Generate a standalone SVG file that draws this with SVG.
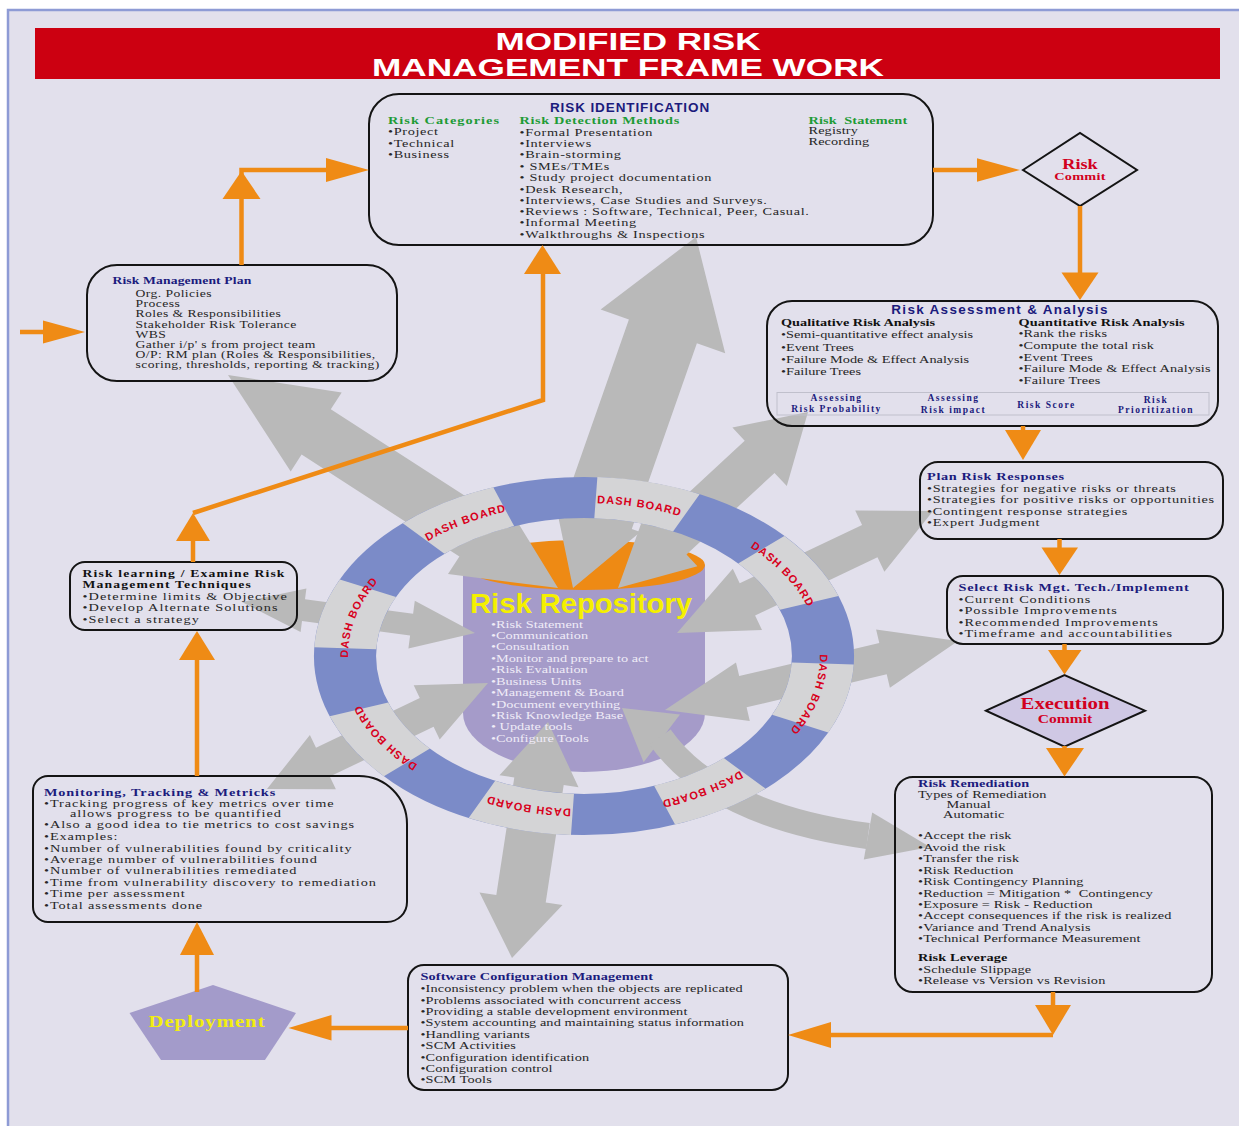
<svg xmlns="http://www.w3.org/2000/svg" width="1239" height="1126" viewBox="0 0 1239 1126">
<style>
.t{font-family:"Liberation Serif","Times New Roman",serif;font-size:11px;fill:#262626}
.b{font-weight:bold;fill:#111}
.nv{fill:#1b1b7d;font-weight:bold}
.gn{fill:#1e9b36;font-weight:bold}
.rd{font-family:"Liberation Serif","Times New Roman",serif;fill:#d2001e;font-weight:bold}
.box{fill:none;stroke:#141414;stroke-width:2}
.or{fill:#ef8b15}
.ol{fill:none;stroke:#ef8b15;stroke-width:4.5}
.gy{fill:#b9b9b9}
.db{font-family:"Liberation Sans",Arial,sans-serif;font-weight:bold;font-size:11px;fill:#d8001c;letter-spacing:1px}
.hs{font-family:"Liberation Sans",Arial,sans-serif;font-weight:bold;fill:#1b1b7d}
.nl{font-size:9.5px;letter-spacing:1.5px}
.ttl{font-family:"Liberation Sans",Arial,sans-serif;font-weight:bold;font-size:23px;fill:#fff}
</style>
<defs>
<path id="db0" d="M400.6 559.7 A236 153 0 0 1 539 505.8"/>
<path id="db1" d="M559.3 503.8 A236 153 0 0 1 716 529.2"/>
<path id="db2" d="M732.5 537.1 A236 153 0 0 1 815.7 626.8"/>
<path id="db3" d="M818.7 640 A236 153 0 0 1 779.6 741.6"/>
<path id="db4" d="M767.4 752.3 A236 153 0 0 1 629 806.2"/>
<path id="db5" d="M608.7 808.2 A236 153 0 0 1 452 782.8"/>
<path id="db6" d="M435.5 774.9 A236 153 0 0 1 352.3 685.2"/>
<path id="db7" d="M349.3 672 A236 153 0 0 1 388.4 570.4"/>
</defs>
<rect width="1239" height="1126" fill="#ffffff"/>
<rect x="8" y="10" width="1240" height="1130" fill="#e2e0ec" stroke="#8e9bd5" stroke-width="2.5"/>

<g id="title">
<rect x="35" y="28" width="1185" height="51" fill="#cc0011"/>
<text x="628" y="49.5" class="ttl" text-anchor="middle" textLength="265" lengthAdjust="spacingAndGlyphs">MODIFIED RISK</text>
<text x="628" y="75.5" class="ttl" text-anchor="middle" textLength="512" lengthAdjust="spacingAndGlyphs">MANAGEMENT FRAME WORK</text>
</g>

<g id="repository">
<path d="M463 565 V713 A121 59 0 0 0 705 713 V565 Z" fill="#a59bc9"/>
<ellipse cx="584" cy="565" rx="121" ry="25" fill="#ee8a14"/>
</g>

<g id="grey-connectors">
<polygon class="gy" points="558,588 500,493.5 488.6,511.1 330.8,409.2 341.7,392.4 228,375 290.7,471.4 301.6,454.6 459.4,556.5 448,574.1"/>
<polygon class="gy" points="573,588 640.3,532.1 631.8,529.1 696.9,343.3 725.2,353.2 696,237 600.6,309.6 628.9,319.5 563.8,505.3 555.3,502.3"/>
<polygon class="gy" points="618,588 697.4,566.3 686.5,554.5 774.5,472.9 786.8,486.1 808,412 732.4,427.5 744.7,440.7 656.7,522.3 645.8,510.5"/>
<polygon class="gy" points="677,633 762,630.1 755.1,615.6 877.5,557.3 884.4,571.8 933,511 855.2,510.4 862.1,524.9 739.7,583.2 732.8,568.7"/>
<polygon class="gy" points="665,710 749.8,720.9 746.6,707.3 886.7,674.2 889.9,687.8 958,641 876.1,629.4 879.3,643 739.2,676.1 736,662.5"/>
<polygon class="gy" points="622,708 643.6,762.3 680,714.5"/>
<path d="M660 737 Q715 815 868 836" fill="none" stroke="#b9b9b9" stroke-width="26"/>
<polygon class="gy" points="930,847 863.8,859.6 872.2,812.4"/>
<polygon class="gy" points="548,722 499.5,775.3 514.3,777.5 496.3,894.9 479.5,892.4 512,958 562.5,905 545.7,902.5 563.7,785.1 578.5,787.3"/>
<polygon class="gy" points="488,683 413.7,685.3 419.8,698 316,747.8 309.9,735.1 267,789 335.9,789.3 329.8,776.6 433.6,726.8 439.7,739.5"/>
<polygon class="gy" points="475,633 414.8,600.8 413.1,613.7 305,599.3 306.4,588.4 242,602 300.6,632 302,621.1 410.1,635.5 408.4,648.4"/>
</g>

<g id="dashboard-ring">
<g transform="translate(584 656) scale(2.39 1.585)">
<circle r="100" fill="none" stroke="#7b8bc8" stroke-width="26"/>
<circle r="100" fill="none" stroke="#d4d4d6" stroke-width="26" stroke-dasharray="39.27 39.27" stroke-dashoffset="-4.8"/>
</g>
<text class="db"><textPath href="#db0" startOffset="50%" text-anchor="middle">DASH BOARD</textPath></text>
<text class="db"><textPath href="#db1" startOffset="50%" text-anchor="middle">DASH BOARD</textPath></text>
<text class="db"><textPath href="#db2" startOffset="50%" text-anchor="middle">DASH BOARD</textPath></text>
<text class="db"><textPath href="#db3" startOffset="50%" text-anchor="middle">DASH BOARD</textPath></text>
<text class="db"><textPath href="#db4" startOffset="50%" text-anchor="middle">DASH BOARD</textPath></text>
<text class="db"><textPath href="#db5" startOffset="50%" text-anchor="middle">DASH BOARD</textPath></text>
<text class="db"><textPath href="#db6" startOffset="50%" text-anchor="middle">DASH BOARD</textPath></text>
<text class="db"><textPath href="#db7" startOffset="50%" text-anchor="middle">DASH BOARD</textPath></text>
</g>

<g id="repository-label">
<text x="581" y="612.5" text-anchor="middle" textLength="222" lengthAdjust="spacingAndGlyphs" style="font-family:'Liberation Sans',Arial,sans-serif;font-weight:bold;font-size:27px;fill:#f5f000">Risk Repository</text>
<g class="t" style="fill:#efebf7" transform="matrix(1.3 0 0 1 -147.3 0)">
<text x="491" y="628">•Risk Statement</text>
<text x="491" y="639">•Communication</text>
<text x="491" y="650.5">•Consultation</text>
<text x="491" y="662">•Monitor and prepare to act</text>
<text x="491" y="673.5">•Risk Evaluation</text>
<text x="491" y="685">•Business Units</text>
<text x="491" y="696">•Management &amp; Board</text>
<text x="491" y="708">•Document everything</text>
<text x="491" y="719">•Risk Knowledge Base</text>
<text x="491" y="730.5">• Update tools</text>
<text x="491" y="742">•Configure Tools</text>
</g>
</g>

<g id="rm-plan">
<rect class="box" x="87" y="265" width="310" height="116" rx="30"/>
<g class="t" style="font-size:10.5px;letter-spacing:0.33px" transform="matrix(1.3 0 0 1 -40.65 0)">
<text x="117.8" y="284.5" class="nv" style="letter-spacing:0.1px">Risk Management Plan</text>
<text x="135.5" y="297.5">Org. Policies</text>
<text x="135.5" y="307.5">Process</text>
<text x="135.5" y="317.5">Roles &amp; Responsibilities</text>
<text x="135.5" y="327.8">Stakeholder Risk Tolerance</text>
<text x="135.5" y="337.8">WBS</text>
<text x="135.5" y="348.2">Gather i/p' s from project team</text>
<text x="135.5" y="358.2">O/P: RM plan (Roles &amp; Responsibilities,</text>
<text x="135.5" y="368.5">scoring, thresholds, reporting &amp; tracking)</text>
</g>
</g>

<g id="risk-identification">
<rect class="box" x="369" y="94" width="564" height="151" rx="30"/>
<text x="630" y="111.5" class="hs" text-anchor="middle" style="font-size:13.5px;letter-spacing:0.9px">RISK IDENTIFICATION</text>
<g class="t" style="letter-spacing:0.5px" transform="matrix(1.3 0 0 1 -116.4 0)">
<text x="388" y="124.5" class="gn" style="letter-spacing:0.8px">Risk Categories</text>
<text x="388" y="135.5">•Project</text>
<text x="388" y="147">•Technical</text>
<text x="388" y="158">•Business</text>
</g>
<g class="t" style="letter-spacing:0.5px" transform="matrix(1.3 0 0 1 -155.85 0)">
<text x="519.5" y="124.5" class="gn">Risk Detection Methods</text>
<text x="519.5" y="135.8">•Formal Presentation</text>
<text x="519.5" y="147">•Interviews</text>
<text x="519.5" y="158.3">•Brain-storming</text>
<text x="519.5" y="169.8">• SMEs/TMEs</text>
<text x="519.5" y="181.5">• Study project documentation</text>
<text x="519.5" y="192.8">•Desk Research,</text>
<text x="519.5" y="203.8">•Interviews, Case Studies and Surveys.</text>
<text x="519.5" y="215.2">•Reviews : Software, Technical, Peer, Casual.</text>
<text x="519.5" y="226.5">•Informal Meeting</text>
<text x="519.5" y="238.2">•Walkthroughs &amp; Inspections</text>
</g>
<g class="t" style="letter-spacing:0.1px" transform="matrix(1.3 0 0 1 -242.55 0)">
<text x="808.5" y="124.5" class="gn" style="white-space:pre">Risk  Statement</text>
<text x="808.5" y="134.2">Registry</text>
<text x="808.5" y="144.8">Recording</text>
</g>
</g>

<g id="risk-commit">
<polygon class="box" points="1023,170 1080,133 1137,170 1080,206"/>
<g transform="matrix(1.3 0 0 1 -324 0)">
<text x="1080" y="169" class="rd" text-anchor="middle" style="font-size:14px">Risk</text>
<text x="1080" y="180.5" class="rd" text-anchor="middle" style="font-size:11px;letter-spacing:0.2px">Commit</text>
</g>
</g>

<g id="risk-assessment">
<rect class="box" x="767" y="301" width="451" height="125" rx="25"/>
<text x="1000" y="313.5" class="hs" text-anchor="middle" style="font-size:13.5px;letter-spacing:1.3px">Risk Assessment &amp; Analysis</text>
<rect x="777" y="392.5" width="432" height="22.5" fill="none" stroke="#c0c0cc" stroke-width="1"/>
<g class="t" transform="matrix(1.3 0 0 1 -234.3 0)">
<text x="781" y="326.5" class="b">Qualitative Risk Analysis</text>
<text x="781" y="338.5">•Semi-quantitative effect analysis</text>
<text x="781" y="351">•Event Trees</text>
<text x="781" y="363.5">•Failure Mode &amp; Effect Analysis</text>
<text x="781" y="375.5">•Failure Trees</text>
</g>
<g class="t" style="letter-spacing:0.1px" transform="matrix(1.3 0 0 1 -305.55 0)">
<text x="1018.5" y="326.5" class="b">Quantitative Risk Analysis</text>
<text x="1018.5" y="337.5">•Rank the risks</text>
<text x="1018.5" y="349">•Compute the total risk</text>
<text x="1018.5" y="361">•Event Trees</text>
<text x="1018.5" y="372.5">•Failure Mode &amp; Effect Analysis</text>
<text x="1018.5" y="384">•Failure Trees</text>
</g>
<g class="t nl" text-anchor="middle">
<text x="836.5" y="400.5" class="nv">Assessing</text>
<text x="836.5" y="411.5" class="nv">Risk Probability</text>
<text x="953.5" y="400.5" class="nv">Assessing</text>
<text x="953.5" y="413" class="nv">Risk impact</text>
<text x="1046.5" y="407.5" class="nv">Risk Score</text>
<text x="1156" y="402.5" class="nv">Risk</text>
<text x="1156" y="412.5" class="nv">Prioritization</text>
</g>
</g>

<g id="plan-risk-responses">
<rect class="box" x="920" y="462" width="303" height="77" rx="18"/>
<g class="t" style="letter-spacing:0.53px" transform="matrix(1.3 0 0 1 -278.1 0)">
<text x="927" y="480.5" class="nv" style="letter-spacing:0.5px">Plan Risk Responses</text>
<text x="927" y="492">•Strategies for negative risks or threats</text>
<text x="927" y="503.5">•Strategies for positive risks or opportunities</text>
<text x="927" y="515">•Contingent response strategies</text>
<text x="927" y="526">•Expert Judgment</text>
</g>
</g>

<g id="select-risk-tech">
<rect class="box" x="947" y="576" width="276" height="68" rx="16"/>
<g class="t" style="letter-spacing:0.72px" transform="matrix(1.3 0 0 1 -287.55 0)">
<text x="958.5" y="591.5" class="nv" style="letter-spacing:0.6px">Select Risk Mgt. Tech./Implement</text>
<text x="958.5" y="603">•Current Conditions</text>
<text x="958.5" y="614.5">•Possible Improvements</text>
<text x="958.5" y="626">•Recommended Improvements</text>
<text x="958.5" y="637.5">•Timeframe and accountabilities</text>
</g>
</g>

<g id="execution-commit">
<polygon points="986,710.7 1064.5,675 1145,710.7 1064.5,746.7" fill="#cfc8e4" stroke="#141414" stroke-width="2"/>
<g transform="matrix(1.3 0 0 1 -319.5 0)">
<text x="1065" y="709.5" class="rd" text-anchor="middle" style="font-size:16px">Execution</text>
<text x="1065" y="723" class="rd" text-anchor="middle" style="font-size:12px">Commit</text>
</g>
</g>

<g id="risk-remediation">
<rect class="box" x="895" y="777" width="317" height="215" rx="18"/>
<g class="t" style="letter-spacing:0.1px" transform="matrix(1.3 0 0 1 -275.4 0)">
<text x="918" y="787.5" class="nv">Risk Remediation</text>
<text x="918" y="798">Types of Remediation</text>
<text x="939.9" y="808">Manual</text>
<text x="937.2" y="818">Automatic</text>
<text x="918" y="839.5">•Accept the risk</text>
<text x="918" y="851">•Avoid the risk</text>
<text x="918" y="862.5">•Transfer the risk</text>
<text x="918" y="874">•Risk Reduction</text>
<text x="918" y="885">•Risk Contingency Planning</text>
<text x="918" y="897" style="white-space:pre">•Reduction = Mitigation *  Contingency</text>
<text x="918" y="908">•Exposure = Risk - Reduction</text>
<text x="918" y="919.5">•Accept consequences if the risk is realized</text>
<text x="918" y="931">•Variance and Trend Analysis</text>
<text x="918" y="942">•Technical Performance Measurement</text>
<text x="918" y="961" class="b">Risk Leverage</text>
<text x="918" y="973">•Schedule Slippage</text>
<text x="918" y="984.5">•Release vs Version vs Revision</text>
</g>
</g>

<g id="scm">
<rect class="box" x="408" y="965" width="380" height="125" rx="16"/>
<g class="t" style="letter-spacing:0.1px" transform="matrix(1.3 0 0 1 -126.15 0)">
<text x="420.5" y="980" class="nv">Software Configuration Management</text>
<text x="420.5" y="992.5">•Inconsistency problem when the objects are replicated</text>
<text x="420.5" y="1004">•Problems associated with concurrent access</text>
<text x="420.5" y="1015.5">•Providing a stable development environment</text>
<text x="420.5" y="1026.5">•System accounting and maintaining status information</text>
<text x="420.5" y="1038">•Handling variants</text>
<text x="420.5" y="1049.5">•SCM Activities</text>
<text x="420.5" y="1061">•Configuration identification</text>
<text x="420.5" y="1072">•Configuration control</text>
<text x="420.5" y="1083.5">•SCM Tools</text>
</g>
</g>

<g id="deployment">
<polygon points="213,985 296,1013 265,1060 161,1060 129.5,1013" fill="#a39bca"/>
<text x="207" y="1027" text-anchor="middle" transform="matrix(1.3 0 0 1 -62.1 0)" style="font-family:'Liberation Serif','Times New Roman',serif;font-weight:bold;font-size:16px;letter-spacing:0.75px;fill:#f2ee10">Deployment</text>
</g>

<g id="monitoring">
<path class="box" d="M48 776 H359 A48 48 0 0 1 407 824 V902 A20 20 0 0 1 387 922 H48 A15 15 0 0 1 33 907 V791 A15 15 0 0 1 48 776 Z"/>
<g class="t" style="letter-spacing:0.7px" transform="matrix(1.3 0 0 1 -13.2 0)">
<text x="44" y="796.5" class="nv" style="letter-spacing:0.65px">Monitoring, Tracking &amp; Metricks</text>
<text x="44" y="807.5">•Tracking progress of key metrics over time</text>
<text x="64" y="817.5">allows progress to be quantified</text>
<text x="44" y="828.5">•Also a good idea to tie metrics to cost savings</text>
<text x="44" y="840">•Examples:</text>
<text x="44" y="852">•Number of vulnerabilities found by criticality</text>
<text x="44" y="863">•Average number of vulnerabilities found</text>
<text x="44" y="874">•Number of vulnerabilities remediated</text>
<text x="44" y="886">•Time from vulnerability discovery to remediation</text>
<text x="44" y="897">•Time per assessment</text>
<text x="44" y="909">•Total assessments done</text>
</g>
</g>

<g id="risk-learning">
<rect class="box" x="70" y="562" width="227" height="68" rx="15"/>
<g class="t" style="letter-spacing:0.8px" transform="matrix(1.3 0 0 1 -24.75 0)">
<text x="82.5" y="577.5" class="b" style="font-size:10.5px;letter-spacing:0.9px">Risk learning / Examine Risk</text>
<text x="82.5" y="588.5" class="b" style="font-size:10.5px;letter-spacing:0.9px">Management Techniques</text>
<text x="82.5" y="600">•Determine limits &amp; Objective</text>
<text x="82.5" y="611">•Develop Alternate Solutions</text>
<text x="82.5" y="623">•Select a strategy</text>
</g>
</g>

<g id="orange-connectors">
<line class="ol" x1="20" y1="332" x2="45" y2="332"/>
<polygon class="or" points="43,320.5 85,332 43,343.5"/>
<polyline class="ol" points="241.5,265 241.5,170 328,170"/>
<polygon class="or" points="222.5,199 241.5,171 260.5,199"/>
<polygon class="or" points="326,158 369,170 326,182"/>
<line class="ol" x1="933" y1="170" x2="979" y2="170"/>
<polygon class="or" points="977,158.3 1020,170 977,181.7"/>
<line class="ol" x1="1080" y1="206" x2="1080" y2="274"/>
<polygon class="or" points="1061.5,272.5 1080,300 1098.5,272.5"/>
<line class="ol" x1="1023" y1="426" x2="1023" y2="432"/>
<polygon class="or" points="1005,430 1023,460 1041,430"/>
<line class="ol" x1="1059.5" y1="539" x2="1059.5" y2="549"/>
<polygon class="or" points="1041.5,547.5 1059.5,575 1078,547.5"/>
<line class="ol" x1="1064.5" y1="644" x2="1064.5" y2="651"/>
<polygon class="or" points="1048,650 1064.5,674.5 1081.5,650"/>
<line class="ol" x1="1064.5" y1="746" x2="1064.5" y2="750"/>
<polygon class="or" points="1046,748 1064.5,776.5 1084,748"/>
<line class="ol" x1="1053" y1="992" x2="1053" y2="1007"/>
<polygon class="or" points="1035,1005 1053,1035 1071,1005"/>
<line class="ol" x1="1053" y1="1035" x2="828" y2="1035"/>
<polygon class="or" points="831,1022 788,1035 831,1048"/>
<line class="ol" x1="408" y1="1028" x2="329" y2="1028"/>
<polygon class="or" points="331.5,1015 288.5,1028 331.5,1040.5"/>
<line class="ol" x1="197" y1="992" x2="197" y2="953"/>
<polygon class="or" points="180,955 197,922 214,955"/>
<line class="ol" x1="197" y1="776" x2="197" y2="658"/>
<polygon class="or" points="179,660 197,631 215,660"/>
<line class="ol" x1="193" y1="562" x2="193" y2="539"/>
<polygon class="or" points="176,541 193,513 210,541"/>
<polyline class="ol" points="193,513 543,400 543,272"/>
<polygon class="or" points="524,274 542.5,245 561,274"/>
</g>
</svg>
